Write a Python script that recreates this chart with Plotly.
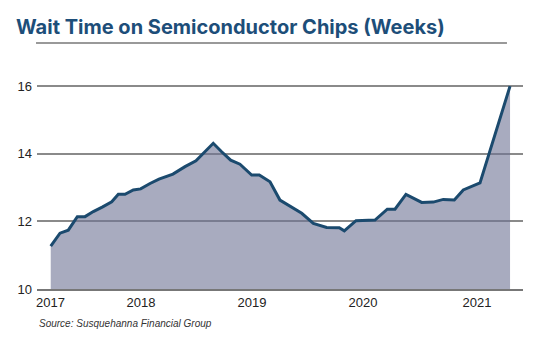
import plotly.graph_objects as go

# Decimal-year positions of the data points and wait time (weeks)
dates = [2017.192, 2017.275, 2017.349, 2017.430, 2017.499, 2017.573, 2017.657, 2017.738,
         2017.797, 2017.857, 2017.931, 2017.997, 2018.081, 2018.161, 2018.286, 2018.394,
         2018.492, 2018.647, 2018.722, 2018.803, 2018.886, 2018.991, 2019.059, 2019.155,
         2019.244, 2019.334, 2019.439, 2019.543, 2019.662, 2019.775, 2019.820, 2019.925,
         2019.996, 2020.095, 2020.205, 2020.274, 2020.372, 2020.513, 2020.617, 2020.706,
         2020.805, 2020.885, 2021.035, 2021.304]
weeks = [11.27, 11.65, 11.74, 12.14, 12.14, 12.29, 12.43, 12.58,
         12.80, 12.80, 12.93, 12.96, 13.12, 13.25, 13.40, 13.62,
         13.79, 14.31, 14.06, 13.81, 13.69, 13.37, 13.37, 13.17,
         12.63, 12.45, 12.24, 11.94, 11.82, 11.81, 11.72, 12.02,
         12.02, 12.04, 12.36, 12.36, 12.80, 12.56, 12.57, 12.65,
         12.63, 12.93, 13.14, 16.00]

year_ticks = [2017.19, 2018.0, 2018.994, 2019.988, 2021.008]
year_labels = ["2017", "2018", "2019", "2020", "2021"]
y_ticks = [10, 12, 14, 16]

fig = go.Figure()
fig.add_trace(go.Scatter(
    x=dates, y=weeks, mode="lines",
    line=dict(color="#1b4a6e", width=3),
    fill="tozeroy", fillcolor="rgba(110,115,148,0.6)",
    hoverinfo="skip",
))

fig.update_layout(
    width=540, height=342,
    margin=dict(l=37, r=17, t=76, b=53),
    paper_bgcolor="white", plot_bgcolor="white",
    showlegend=False,
    font=dict(family="Liberation Sans, Arial, sans-serif", color="#222222", size=13),
    title=dict(
        text="<b>Wait Time on Semiconductor Chips (Weeks)</b>",
        font=dict(family="Inter, Roboto, sans-serif", size=20, color="#1d4e79"),
        xref="container", yref="container", x=16/540, xanchor="left",
        y=1 - 27/342, yanchor="middle",
    ),
    xaxis=dict(
        range=[2017.069, 2021.42], tickmode="array", tickvals=year_ticks, ticktext=year_labels,
        showgrid=False, zeroline=False, showline=True, linecolor="#777777", linewidth=2,
        ticks="", tickfont=dict(size=13, color="#222222"),
    ),
    yaxis=dict(
        range=[10, 16.3], tickmode="array", tickvals=y_ticks,
        showgrid=True, gridcolor="#8a8a8a", gridwidth=1.5, zeroline=False,
        showline=False, ticks="", ticklabelstandoff=4,
        tickfont=dict(size=13, color="#222222"),
    ),
    shapes=[dict(type="line", xref="paper", yref="paper",
                 x0=-0.002, x1=0.967, y0=1.155, y1=1.155,
                 line=dict(color="#999999", width=2))],
    annotations=[dict(
        text="<i>Source: Susquehanna Financial Group</i>",
        xref="paper", yref="paper", x=0, xanchor="left",
        y=-0.16, yanchor="middle", showarrow=False,
        font=dict(size=10, color="#333333", family="Liberation Sans, Arial, sans-serif"),
    )],
)

fig.write_html("out.html")
